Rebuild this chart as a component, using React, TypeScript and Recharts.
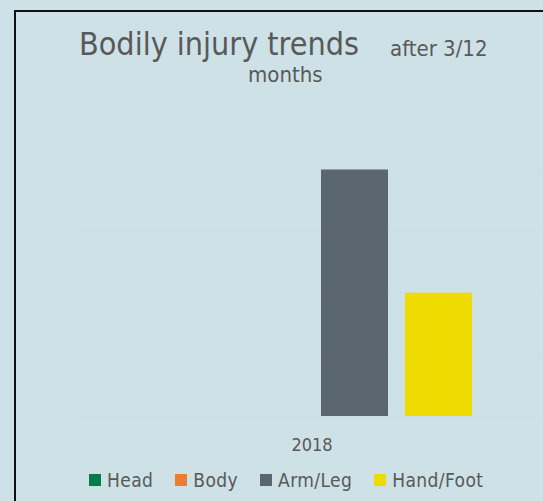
import { BarChart, Bar, XAxis, YAxis, CartesianGrid, Legend } from 'recharts';

const years = ['2018'];
const headValues = [0];
const bodyValues = [0];
const armLegValues = [4];
const handFootValues = [2];
const yTicks = [0, 1, 2, 3, 4, 5];

const series = [
  { key: 'head', name: 'Head', color: '#0a7a48' },
  { key: 'body', name: 'Body', color: '#ed7d31' },
  { key: 'armLeg', name: 'Arm/Leg', color: '#5a6770' },
  { key: 'handFoot', name: 'Hand/Foot', color: '#eedc00' },
];

const data = years.map((year, i) => ({
  year,
  head: headValues[i],
  body: bodyValues[i],
  armLeg: armLegValues[i],
  handFoot: handFootValues[i],
}));

const FONT = '"DejaVu Sans Condensed", "DejaVu Sans", sans-serif';
const TEXT = '#595959';
const BG = '#cde1e6';

const renderLegend = () => (
  <div style={{ display: 'flex', alignItems: 'center', paddingLeft: 89, fontFamily: FONT, fontStretch: 'condensed', fontSize: 19, letterSpacing: 0.4, color: TEXT }}>
    {series.map((s) => (
      <div key={s.key} style={{ display: 'flex', alignItems: 'center', marginRight: 22 }}>
        <span style={{ width: 12, height: 12, background: s.color, display: 'inline-block', marginRight: 6 }} />
        <span>{s.name}</span>
      </div>
    ))}
  </div>
);

export default function App() {
  return (
    <div style={{ position: 'fixed', left: 0, top: 0, width: 543, height: 501, background: BG, overflow: 'hidden' }}>
      <div style={{ position: 'absolute', left: 14, top: 10, width: 600, height: 600, border: '2px solid #111', boxSizing: 'border-box' }} />
      <div style={{ position: 'absolute', left: 0, top: 0 }}>
        <BarChart
          width={560}
          height={501}
          data={data}
          margin={{ top: 108, right: 16, left: 80, bottom: 55 }}
          barSize={67}
          barGap={17}
        >
          <CartesianGrid vertical={false} stroke="#d6dadc" />
          <XAxis
            dataKey="year"
            height={30}
            axisLine={false}
            tickLine={false}
            tickSize={0}
            tickMargin={22}
            tick={{ fill: TEXT, fontSize: 18, fontFamily: FONT, style: { fontStretch: 'condensed' } }}
          />
          <YAxis hide domain={[0, 5]} ticks={yTicks} />
          {series.map((s) => (
            <Bar key={s.key} dataKey={s.key} name={s.name} fill={s.color} isAnimationActive={false} />
          ))}
          <Legend
            verticalAlign="middle"
            align="center"
            content={renderLegend}
            wrapperStyle={{ top: 469, left: 0, width: 560 }}
          />
        </BarChart>
      </div>
      <div style={{ position: 'absolute', left: 79, top: 28, fontFamily: FONT, fontStretch: 'condensed', fontSize: 32, lineHeight: 1, color: TEXT, whiteSpace: 'nowrap' }}>
        Bodily injury trends
      </div>
      <div style={{ position: 'absolute', left: 390, top: 38, fontFamily: FONT, fontStretch: 'condensed', fontSize: 22, lineHeight: 1, color: TEXT, whiteSpace: 'nowrap' }}>
        after 3/12
      </div>
      <div style={{ position: 'absolute', left: 248, top: 64, fontFamily: FONT, fontStretch: 'condensed', fontSize: 22, lineHeight: 1, color: TEXT, whiteSpace: 'nowrap' }}>
        months
      </div>
    </div>
  );
}
